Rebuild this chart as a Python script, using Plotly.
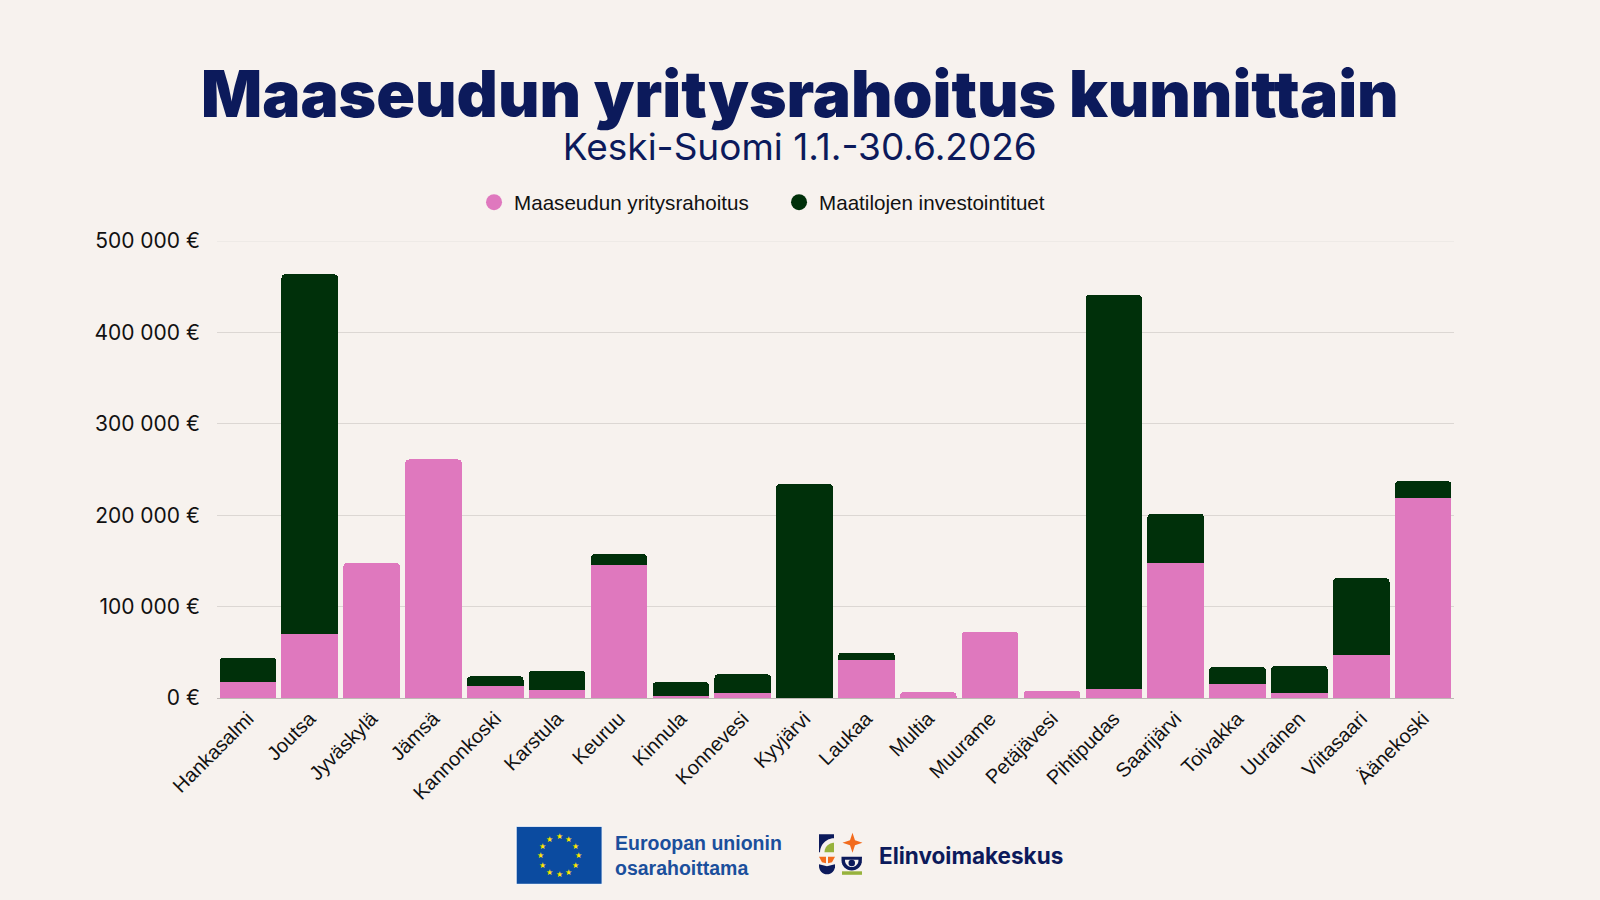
import math
import plotly.graph_objects as go

# ---------------- data ----------------
kunnat = ["Hankasalmi", "Joutsa", "Jyväskylä", "Jämsä", "Kannonkoski", "Karstula",
          "Keuruu", "Kinnula", "Konnevesi", "Kyyjärvi", "Laukaa", "Multia",
          "Muurame", "Petäjävesi", "Pihtipudas", "Saarijärvi", "Toivakka",
          "Uurainen", "Viitasaari", "Äänekoski"]

yritysrahoitus = [17000, 70500, 147500, 261000, 13500, 9200, 145500, 2600, 5500, 0,
                  41500, 6300, 72500, 7700, 9500, 148000, 15300, 5900, 47500, 218500]

investointituet = [27000, 393000, 0, 0, 10200, 20800, 11700, 14600, 20400, 234000,
                   8200, 0, 0, 0, 431500, 53700, 18600, 29100, 83500, 18800]

series_names = ["Maaseudun yritysrahoitus", "Maatilojen investointituet"]
y_ticks = [0, 100000, 200000, 300000, 400000, 500000]
y_tick_labels = ["0 €", "100 000 €", "200 000 €", "300 000 €", "400 000 €", "500 000 €"]

title_text = "Maaseudun yritysrahoitus kunnittain"
subtitle_text = "Keski-Suomi 1.1.-30.6.2026"

# ---------------- style ----------------
PINK = "#df78be"
GREEN = "#00300a"
BG = "#f7f2ee"
NAVY = "#0c1a5b"
EU_BLUE = "#0b4ba0"
EU_TEXT = "#1b4f9c"
ORANGE = "#f26b1d"
OLIVE = "#97b23c"

W, H = 1600, 900
L, R, T, B = 216.7, 1454.3, 240.7, 697.7


def px(x):
    return (x - L) / (R - L)


def py(y):
    return (B - y) / (B - T)


fig = go.Figure()
fig.add_trace(go.Bar(x=kunnat, y=yritysrahoitus, name=series_names[0],
                     marker=dict(color=PINK, line=dict(width=0)), showlegend=False))
fig.add_trace(go.Bar(x=kunnat, y=investointituet, name=series_names[1],
                     marker=dict(color=GREEN, line=dict(width=0)), showlegend=False))
# legend entries with round symbols
for name, col in zip(series_names, [PINK, GREEN]):
    fig.add_trace(go.Scatter(x=[None], y=[None], mode="markers", name=name,
                             marker=dict(color=col, size=22, symbol="circle")))

annotations = []
shapes = []

# top gridline (500 000 €)
shapes.append(dict(type="line", xref="paper", yref="y", x0=0, x1=1, y0=y_ticks[-1], y1=y_ticks[-1],
                   line=dict(color="#e6e1dd", width=1), layer="below"))

# Title & subtitle (one text block, two lines)
annotations.append(dict(
    text=(f'<span style="font-size:64px;font-weight:900">{title_text}</span><br>'
          f'<span style="font-size:37px">{subtitle_text}</span>'),
    x=px(800), y=py(112), xref="paper", yref="paper",
    xanchor="center", yanchor="middle", align="center", showarrow=False,
    font=dict(family="Inter", size=33, color=NAVY)))

# ---- EU flag ----
shapes.append(dict(type="rect", xref="paper", yref="paper", x0=px(516), x1=px(602), y0=py(884), y1=py(826),
                   fillcolor=EU_BLUE, line=dict(width=1, color="white"), layer="above"))
cx, cy, rr = 559.3, 855.3, 19
for k in range(12):
    a = 2 * math.pi * k / 12
    annotations.append(dict(text="★", x=px(cx + rr * math.sin(a)), y=py(cy - rr * math.cos(a)),
                            xref="paper", yref="paper", showarrow=False, xanchor="center", yanchor="middle",
                            font=dict(family="DejaVu Sans", size=8, color="#ffe500")))
annotations.append(dict(text="<b>Euroopan unionin</b><br><b>osarahoittama</b>", x=px(613), y=py(855),
                        xref="paper", yref="paper", xanchor="left", yanchor="middle", align="left",
                        showarrow=False, font=dict(family="Liberation Sans", size=19.5, color=EU_TEXT)))


# ---- Elinvoimakeskus logo ----
def path_px(points, close=True):
    s = "M " + " L ".join(f"{px(x):.5f},{py(y):.5f}" for x, y in points)
    return s + (" Z" if close else "")


def arc_pts(cx_, cy_, r_, a0, a1, n=16):
    return [(cx_ + r_ * math.cos(math.radians(a0 + (a1 - a0) * i / n)),
             cy_ + r_ * math.sin(math.radians(a0 + (a1 - a0) * i / n))) for i in range(n + 1)]


# top-left navy block with olive quarter
shapes.append(dict(type="path", xref="paper", yref="paper", layer="above",
                   path=path_px([(819, 834), (834, 834), (834, 838)] + arc_pts(834, 852, 14, 270, 180) + [(819, 852)]),
                   fillcolor=NAVY, line=dict(width=0)))
shapes.append(dict(type="path", xref="paper", yref="paper", layer="above",
                   path=path_px([(834, 852)] + arc_pts(834, 852, 9.5, 180, 270)),
                   fillcolor=OLIVE, line=dict(width=0)))
# orange 4-point star
sx, sy = 852.5, 842.5
shapes.append(dict(type="path", xref="paper", yref="paper", layer="above",
                   path=path_px([(sx, sy - 10), (sx + 2.5, sy - 2.5), (sx + 10, sy), (sx + 2.5, sy + 2.5),
                                 (sx, sy + 10), (sx - 2.5, sy + 2.5), (sx - 10, sy), (sx - 2.5, sy - 2.5)]),
                   fillcolor=ORANGE, line=dict(width=0)))
# bottom-left orange petals + navy tulip
shapes.append(dict(type="path", xref="paper", yref="paper", layer="above",
                   path=path_px([(819, 856.5), (826, 856.5), (826, 863), (822, 862)]),
                   fillcolor=ORANGE, line=dict(width=0)))
shapes.append(dict(type="path", xref="paper", yref="paper", layer="above",
                   path=path_px([(835, 856.5), (828, 856.5), (828, 863), (832, 862)]),
                   fillcolor=ORANGE, line=dict(width=0)))
shapes.append(dict(type="path", xref="paper", yref="paper", layer="above",
                   path=path_px([(819, 864), (827, 866), (835, 864), (835, 868)] + arc_pts(827, 866, 8, 0, 180)[1:] + [(819, 868)]),
                   fillcolor=NAVY, line=dict(width=0)))
# bottom-right navy bowl with dot and olive base
shapes.append(dict(type="path", xref="paper", yref="paper", layer="above",
                   path=path_px([(841.5, 856.5), (862, 856.5)] + arc_pts(851.75, 860, 10.25, 0, 180)[1:]),
                   fillcolor=NAVY, line=dict(width=0)))
shapes.append(dict(type="path", xref="paper", yref="paper", layer="above",
                   path=path_px([(845, 859.5), (858.5, 859.5)] + arc_pts(851.75, 860, 6.75, 0, 180)[1:]),
                   fillcolor=BG, line=dict(width=0)))
shapes.append(dict(type="circle", xref="paper", yref="paper", layer="above",
                   x0=px(848.5), x1=px(855), y0=py(866), y1=py(859.5), fillcolor=NAVY, line=dict(width=0)))
shapes.append(dict(type="rect", xref="paper", yref="paper", layer="above",
                   x0=px(842), x1=px(862), y0=py(874.5), y1=py(871), fillcolor=OLIVE, line=dict(width=0)))
annotations.append(dict(text="<b>Elinvoimakeskus</b>", x=px(877), y=py(855), xref="paper", yref="paper",
                        xanchor="left", yanchor="middle", showarrow=False,
                        font=dict(family="Inter", size=22.5, color=NAVY)))

fig.update_layout(
    width=W, height=H,
    paper_bgcolor=BG, plot_bgcolor=BG,
    margin=dict(l=L, r=W - R, t=T, b=H - B, autoexpand=False),
    barmode="stack", bargap=0.085, barcornerradius=4,
    font=dict(family="Liberation Sans", color="#111111"),
    legend=dict(orientation="h", xref="paper", yref="paper", x=px(779), y=py(202),
                xanchor="center", yanchor="middle", bgcolor="rgba(0,0,0,0)",
                font=dict(family="Liberation Sans", size=20.6, color="#111111"),
                itemsizing="trace", itemwidth=30, traceorder="normal",
                entrywidth=260),
    showlegend=True,
    annotations=annotations,
    shapes=shapes,
)
fig.update_xaxes(type="category", categoryorder="array", categoryarray=kunnat,
                 tickangle=-45, tickfont=dict(family="Liberation Sans", size=20, color="#111111"),
                 showgrid=False, showline=True, linecolor="#bdb8b5", linewidth=1, ticks="", zeroline=False)
fig.update_yaxes(range=[0, 500000], tickvals=y_ticks, ticktext=y_tick_labels,
                 tickfont=dict(family="Inter", size=21, color="#111111"),
                 showgrid=True, gridcolor="#dcd7d3", gridwidth=1, zeroline=False,
                 showline=False, ticks="", ticklabelstandoff=16)

fig.write_html("out.html", config={"displayModeBar": False},
               post_script="document.body.style.margin='0';document.body.style.background='#f7f2ee';")
